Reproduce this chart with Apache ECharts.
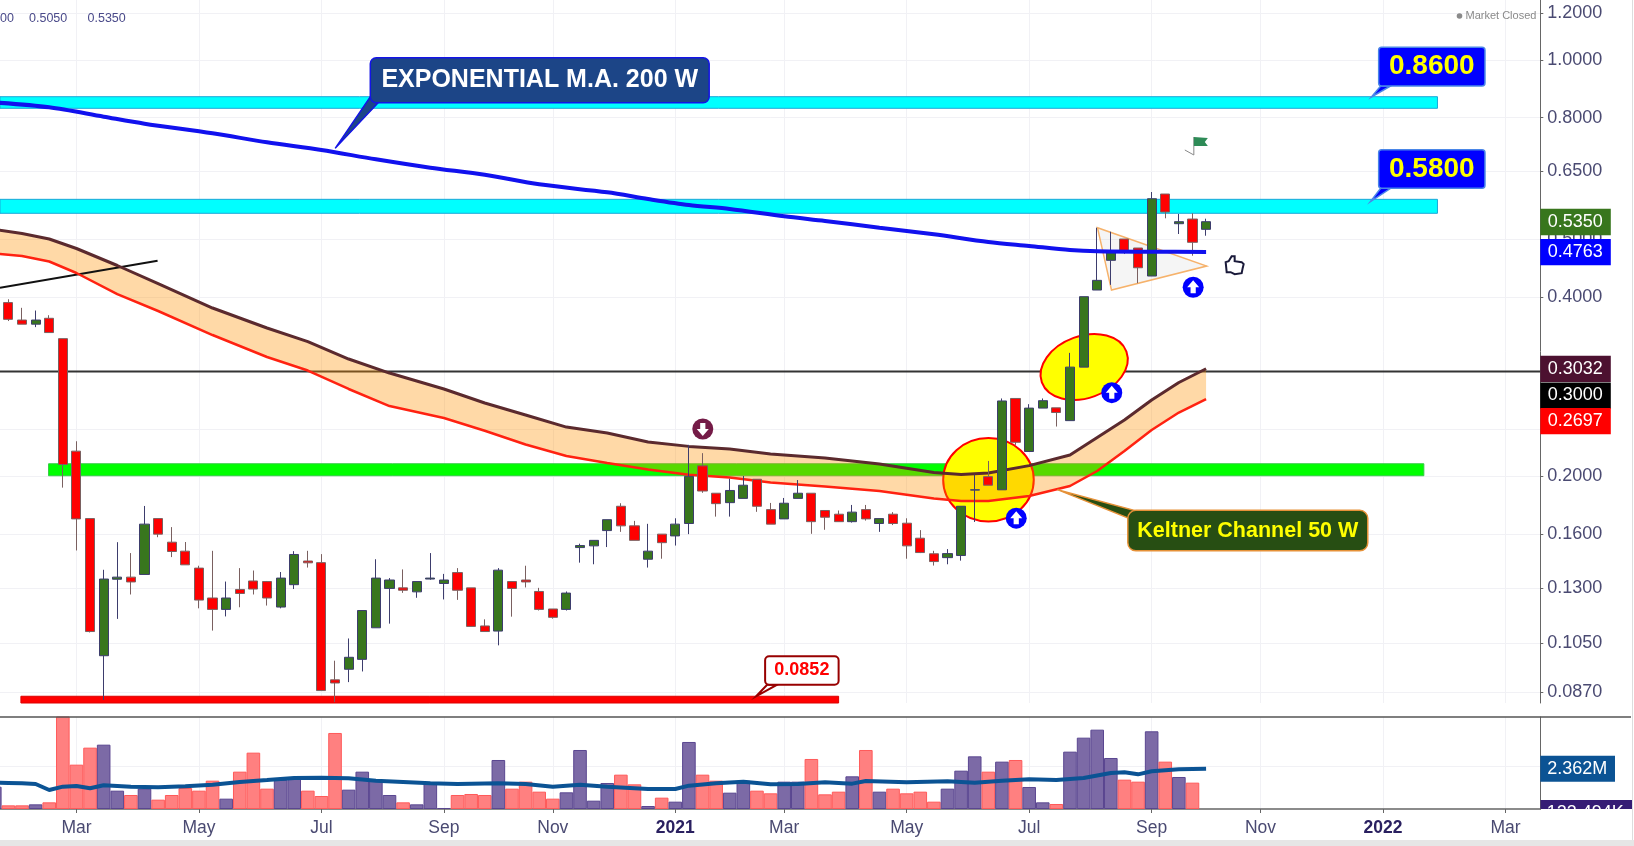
<!DOCTYPE html>
<html><head><meta charset="utf-8">
<style>html,body{margin:0;padding:0;background:#fff}#c{width:1634px;height:846px}</style>
<script src="https://cdn.jsdelivr.net/npm/echarts@6/dist/echarts.min.js"></script>
</head><body><div id="c"></div>
<script>
// Weekly bars: bar 0 = week of 2020-01-27, bar 5 = 2020-03-02, bar 49 = 2021-01-04 ... bar 88 = 2021-10-04
const candleOpen=[.3915,.3660,.3602,.3685,.3406,.2205,.1699,.1000,.1344,.1355,.1369,.1699,.1551,.1498,.1403,.1250,.1196,.1292,.1335,.1332,.1207,.1316,.1442,.1433,
.0911,.0949,.0986,.1114,.1297,.1300,.1280,.1345,.1322,.1379,.1300,.1122,.1100,.1332,.1340,.1282,.1198,.1196,.1519,.1529,.1622,.1782,.1652,.1452,
.1600,.1589,.1667,.2083,.1874,.1807,.1837,.1978,.1759,.1697,.1837,.1874,.1753,.1728,.1679,.1759,.1667,.1728,.1669,.1575,.1483,.1461,.1473,.1897,
.1998,.1899,.2703,.2202,.2604,.2607,.2481,.3051,.4110,.4610,.5006,.4835,.4339,.5957,.5311,.5408,.5197];
const candleClose=[.3670,.3602,.3660,.3487,.2094,.1697,.1098,.1345,.1355,.1330,.1663,.1600,.1496,.1421,.1240,.1196,.1250,.1272,.1294,.1250,.1350,.1479,.1432,.0874,
.0900,.0994,.1191,.1350,.1340,.1288,.1332,.1350,.1340,.1288,.1120,.1098,.1392,.1297,.1330,.1196,.1160,.1274,.1531,.1562,.1692,.1652,.1562,.1498,
.1548,.1663,.2000,.1890,.1800,.1894,.1933,.1782,.1663,.1803,.1874,.1679,.1708,.1679,.1742,.1697,.1699,.1667,.1529,.1490,.1439,.1484,.1782,.1899,
.1933,.2677,.2282,.2604,.2680,.2560,.3051,.4006,.4267,.4748,.4785,.4480,.5850,.5557,.5353,.4943,.5353];
const candleLow=[.3646,.3602,.3561,.3487,.1915,.1502,.1094,.0843,.1153,.1267,.1369,.1581,.1464,.1421,.1201,.1102,.1164,.1206,.1267,.1214,.1201,.1294,.1406,.0874,
.0836,.0903,.0941,.1114,.1132,.1275,.1251,.1341,.1243,.1241,.1120,.1098,.1041,.1163,.1302,.1191,.1154,.1191,.1433,.1424,.1522,.1614,.1562,.1406,
.1455,.1531,.1600,.1877,.1712,.1712,.1837,.1744,.1663,.1697,.1837,.1602,.1627,.1679,.1673,.1686,.1614,.1657,.1455,.1487,.1417,.1424,.1444,.1677,
.1933,.1899,.2259,.2202,.2604,.2425,.2481,.3051,.4110,.4193,.4724,.4220,.4339,.5423,.5104,.4693,.5070];
const candleHigh=[.3966,.3837,.3797,.3729,.3406,.2291,.1699,.1394,.1551,.1487,.1784,.1699,.1644,.1552,.1416,.1500,.1332,.1403,.1390,.1335,.1382,.1498,.1500,.1481,
.0981,.1069,.1191,.1452,.1350,.1396,.1332,.1487,.1372,.1403,.1300,.1151,.1403,.1332,.1416,.1300,.1198,.1282,.1542,.1562,.1692,.1803,.1684,.1665,
.1600,.1701,.2259,.2188,.1874,.1982,.2003,.1978,.1805,.1840,.1972,.1874,.1753,.1753,.1791,.1791,.1699,.1742,.1701,.1625,.1500,.1510,.1782,.2014,
.2123,.2703,.2703,.2644,.2703,.2607,.3224,.4006,.5230,.5149,.5006,.4835,.6003,.5957,.5514,.5529,.5415];
// Volume in millions, from bar -1 to bar 87
const volumeM=[1.31,.215,.215,.274,.392,5.6,2.605,3.605,3.78,1.077,.823,1.195,.549,.823,1.234,1.077,1.665,.607,2.194,3.311,1.195,1.704,1.763,1.077,.764,4.467,1.136,2.194,1.704,.823,.392,.274,1.567,.059,.823,.882,.823,2.880,1.195,1.606,1.019,.607,.980,3.467,.490,
1.528,2.018,1.450,.176,.666,.431,3.938,2.018,1.665,.960,1.665,1.077,.921,1.606,1.606,2.939,.862,1.019,1.920,3.467,1.019,1.195,.921,1.019,.431,1.195,2.253,3.095,2.194,2.782,2.880,1.293,.392,.294,3.370,4.192,4.662,2.997,1.724,1.606,4.565,2.782,1.881,1.548];
const volMaBars=[-1,0,1,2,3,4,5,6,7,9,11,13,15,17,19,21,23,25,27,29,31,33,36,38,40,42,44,47,49,50,52,54,56,58,60,62,63,66,69,71,73,75,77,79,81,82,83,84,86,88];
const volMaValues=[1.548,1.528,1.508,1.469,1.117,1.313,1.352,1.215,1.391,1.313,1.273,1.332,1.430,1.587,1.704,1.822,1.841,1.802,1.665,1.587,1.508,1.469,1.508,1.469,1.313,1.430,1.313,1.175,1.175,1.371,1.508,1.606,1.450,1.469,1.567,1.489,1.646,1.567,1.626,1.548,1.665,1.744,1.704,1.822,2.116,2.155,2.037,2.214,2.331,2.362];
const emaBars=[-1,3,7,10,15,19,23,27,31,35,39,44,47,50,53,57,60,64,68,72,75,78,80,84,88];
const emaValues=[.8485,.8329,.8032,.7818,.7533,.7275,.7062,.6813,.6595,.6418,.6185,.5996,.5843,.5709,.5621,.5465,.5367,.5230,.5098,.4948,.4873,.4798,.4774,.4766,.4763];
const keltnerBars=[-1,1,3,5,8,11,15,19,22,25,28,32,35,38,41,44,47,50,53,56,60,64,68,70,72,75,78,80,82,84,86,88];
const keltnerUpper=[.5193,.5114,.5006,.4826,.4519,.4215,.3834,.3549,.3368,.3148,.2982,.2804,.2656,.2536,.2420,.2365,.2284,.2246,.2223,.2181,.2147,.2098,.2030,.2014,.2026,.2085,.2172,.2324,.2487,.2687,.2875,.3032];
const keltnerLower=[.4733,.4688,.4589,.4390,.4047,.3790,.3454,.3173,.3011,.2804,.2625,.2506,.2386,.2262,.2164,.2106,.2054,.2013,.1991,.1953,.1923,.1890,.1836,.1818,.1818,.1854,.1927,.2042,.2206,.2393,.2560,.2697];
const monthBars=[5,14,23,32,40,49,57,66,75,84,92,101,110];
const monthLabels=['Mar','May','Jul','Sep','Nov','2021','Mar','May','Jul','Sep','Nov','2022','Mar'];
const priceTicks=[1.2,1,.8,.65,.5,.4,.3,.24,.2,.16,.13,.105,.087];

const FONT='"Liberation Sans",Arial,sans-serif';
const X_MIN=-0.617, X_MAX=112.556, Y_MIN=.0833, Y_MAX=1.261;

const bands=[
 {a:[-0.62,.8677],b:[105.0,.8297],fill:'#00ffff',stroke:'#1aa7d8'},
 {a:[-0.62,.5836],b:[105.0,.5529],fill:'#00ffff',stroke:'#1aa7d8'},
 {a:[2.95,.2100],b:[104.0,.2005],fill:'#00ff00',stroke:'#33cc44'},
 {a:[.92,.0855],b:[61.0,.0833],fill:'#ff0000',stroke:'#dd0000'}
];
const ellipses=[
 {c:[72.01,.1974],rx:45.3,ry:41.7,rot:0},
 {c:[79.04,.3052],rx:45,ry:31,rot:20}
];
const triangle=[[80.02,.5230],[81.05,.4110],[88.04,.4510]];
const callouts=[
 {text:'EXPONENTIAL M.A. 200 W',a:[26.59,1.0089],b:[51.49,.8478],tip:[24.01,.7108],base:[[0,-6],[8,0]],fill:'#1c4587',stroke:'#1414e6',color:'#fff',size:25,r:6,lw:1.5},
 {text:'0.8600',a:[100.68,1.0503],b:[108.49,.9044],tip:[100.15,.8667],base:[[2,0],[12,0]],fill:'#0000ff',stroke:'#4a86e8',color:'#ffff00',size:28,r:3,lw:1.5},
 {text:'0.5800',a:[100.68,.7070],b:[108.49,.6090],tip:[100.07,.5782],base:[[2,0],[12,0]],fill:'#0000ff',stroke:'#4a86e8',color:'#ffff00',size:28,r:3,lw:1.5},
 {text:'0.0852',a:[55.6,.0998],b:[61.0,.0894],tip:[54.94,.0855],base:[[2,0],[12,0]],fill:'#ffffff',stroke:'#980000',color:'#ff0000',size:18,r:4,lw:2},
 {text:'Keltner Channel 50 W',a:[82.25,.1754],b:[99.88,.1500],tip:[77.08,.1900],base:[[0,-33],[8,-40]],fill:'#274e13',stroke:'#e69138',color:'#ffff00',size:21.5,r:8,lw:1.5}
];
const markers=[
 {c:[74.05,.1702],up:true,fill:'#0000ff'},
 {c:[81.07,.2764],up:true,fill:'#0000ff'},
 {c:[87.05,.4154],up:true,fill:'#0000ff'},
 {c:[51.02,.2402],up:false,fill:'#741b47'}
];
const flagAnchor=[87.1,.6927], thumbAnchor=[90.1,.4525];
const priceTags=[
 {v:.5350,text:'0.5350',fill:'#38761d',dy:0},
 {v:.4763,text:'0.4763',fill:'#0000ff',dy:0},
 {v:.3032,text:'0.3032',fill:'#4c1130',dy:0},
 {v:.3000,text:'0.3000',fill:'#000000',dy:24},
 {v:.2697,text:'0.2697',fill:'#ff0000',dy:22}
];

function overlay(name,z,items,draw,axis){
  return {type:'custom',name,z,silent:true,xAxisIndex:axis||0,yAxisIndex:axis||0,
    data:items.map(function(_,k){return [k===0?0:1,axis?1:.5];}),
    renderItem:function(p,api){return draw(items[p.dataIndex],api);}};
}
function label(text,x,y,size,color,weight,align){
  return {type:'text',style:{text:text,x:x,y:y,fill:color,font:(weight||'normal')+' '+size+'px '+FONT,
    align:align||'center',verticalAlign:'middle',textAlign:align||'center',textVerticalAlign:'middle'}};
}
const bandSeries=overlay('bands',2,bands,function(b,api){
  const p=api.coord(b.a),q=api.coord(b.b);
  return {type:'rect',shape:{x:p[0],y:p[1],width:q[0]-p[0],height:q[1]-p[1]},style:{fill:b.fill,stroke:b.stroke,lineWidth:1}};
});
const ellipseSeries=overlay('ellipses',3,ellipses,function(e,api){
  const c=api.coord(e.c);
  return {type:'ellipse',x:c[0],y:c[1],rotation:e.rot*Math.PI/180,shape:{cx:0,cy:0,rx:e.rx,ry:e.ry},style:{fill:'#ffff00',stroke:'#ff0000',lineWidth:2}};
});
const channelSeries=overlay('channelFill',4,[0],function(_,api){
  const pts=[];
  keltnerBars.forEach(function(b,k){pts.push(api.coord([b,keltnerUpper[k]]));});
  for(let k=keltnerBars.length-1;k>=0;k--)pts.push(api.coord([keltnerBars[k],keltnerLower[k]]));
  return {type:'polygon',shape:{points:pts},style:{fill:'rgba(255,145,0,0.345)'}};
});
const triangleSeries=overlay('triangle',4,[0],function(_,api){
  return {type:'polygon',shape:{points:triangle.map(function(t){return api.coord(t);})},style:{fill:'rgba(190,190,190,0.15)',stroke:'#f6b26b',lineWidth:1.5}};
});
const calloutSeries=overlay('callouts',9,callouts,function(c,api){
  const p=api.coord(c.a),q=api.coord(c.b),t=api.coord(c.tip);
  const poly=[t,[p[0]+c.base[0][0],q[1]+c.base[0][1]],[p[0]+c.base[1][0],q[1]+c.base[1][1]]];
  return {type:'group',children:[
    {type:'polygon',shape:{points:poly},style:{fill:c.fill,stroke:c.stroke,lineWidth:c.lw}},
    {type:'rect',shape:{x:p[0],y:p[1],width:q[0]-p[0],height:q[1]-p[1],r:c.r},style:{fill:c.fill,stroke:c.stroke,lineWidth:c.lw}},
    label(c.text,(p[0]+q[0])/2,(p[1]+q[1])/2,c.size,c.color,'bold')
  ]};
});
const markerSeries=overlay('markers',9,markers,function(m,api){
  const c=api.coord(m.c),s=m.up?1:-1;
  const arrow=[[0,-7],[6,0],[2.6,0],[2.6,6],[-2.6,6],[-2.6,0],[-6,0]].map(function(a){return [c[0]+a[0],c[1]+a[1]*s];});
  return {type:'group',children:[
    {type:'circle',shape:{cx:c[0],cy:c[1],r:10.5},style:{fill:m.fill}},
    {type:'polygon',shape:{points:arrow},style:{fill:'#fff'}}
  ]};
});
const flagSeries=overlay('flag',9,[0],function(_,api){
  const c=api.coord(flagAnchor);
  return {type:'group',children:[
    {type:'polyline',shape:{points:[[c[0]-9,c[1]-5],[c[0],c[1]],[c[0],c[1]-18]]},style:{stroke:'#888',lineWidth:1,fill:null}},
    {type:'polygon',shape:{points:[[c[0],c[1]-18],[c[0]+14,c[1]-17],[c[0]+11,c[1]-13],[c[0]+14,c[1]-9],[c[0],c[1]-9]]},style:{fill:'#2e8b57'}}
  ]};
});
const thumbSeries=overlay('thumb',9,[0],function(_,api){
  const c=api.coord(thumbAnchor);
  const shape=[[-9,-3],[-6,-4],[-3,-9],[0,-9],[0,-4],[7,-3],[9,-1],[8,3],[7,8],[0,9],[-4,7],[-8,7]];
  return {type:'polygon',shape:{points:shape.map(function(a){return [c[0]+a[0],c[1]+a[1]];})},style:{fill:'#fff',stroke:'#1a1a3a',lineWidth:2}};
});
const tagSeries=overlay('priceTags',10,priceTags,function(t,api){
  const c=api.coord([X_MAX,t.v]);
  return {type:'group',children:[
    {type:'rect',shape:{x:c[0],y:c[1]+t.dy-13,width:70.5,height:26.3},style:{fill:t.fill}},
    label(t.text,c[0]+35,c[1]+t.dy,18,'#fff')
  ]};
});
const volTagSeries=overlay('volumeTags',10,[0],function(_,api){
  const c=api.coord([X_MAX,2.362]);
  const d=api.coord([X_MAX,.1235]);
  return {type:'group',children:[
    {type:'rect',shape:{x:c[0],y:c[1]-13,width:74.7,height:26},style:{fill:'#0b5394'}},
    label('2.362M',c[0]+37,c[1],18,'#fff'),
    {type:'group',clipPath:{type:'rect',shape:{x:c[0],y:d[1]-7,width:92,height:9}},children:[
      {type:'rect',shape:{x:c[0],y:d[1]-7,width:92,height:26},style:{fill:'#351c75'}},
      label('123.494K',c[0]+45,d[1]+6,18,'#fff')
    ]}
  ]};
},1);

function isUp(bar){return bar<0||candleClose[bar]>=candleOpen[bar];}
const candleData=candleOpen.map(function(o,i){return [i,o,candleClose[i],candleLow[i],candleHigh[i]];});
const volumeData=volumeM.map(function(v,k){
  const up=isUp(k-1);
  return {value:[k-1,v],itemStyle:{color:up?'#7c6aa6':'#ff8080',borderColor:up?'#5a4690':'#ff5a5a',borderWidth:1}};
});
function zip(xs,ys){return xs.map(function(x,k){return [x,ys[k]];});}

const gridLine={show:true,lineStyle:{color:'#f1f1f5',width:1}};
const tickLabelColor='#4a4a72';
const option={
  animation:false,backgroundColor:'#fff',
  grid:[
    {left:0,top:0,width:1540.3,height:703,containLabel:false},
    {left:0,top:717,width:1540.3,height:92,containLabel:false}
  ],
  xAxis:[
    {type:'value',gridIndex:0,min:X_MIN,max:X_MAX,axisLine:{show:false},axisTick:{show:false,customValues:monthBars},axisLabel:{show:false,customValues:monthBars},splitLine:gridLine},
    {type:'value',gridIndex:1,min:X_MIN,max:X_MAX,position:'bottom',
     axisLine:{show:true,onZero:false,lineStyle:{color:'#666',width:1.5}},
     axisTick:{show:true,length:4,customValues:monthBars,lineStyle:{color:'#666'}},
     splitLine:gridLine,
     axisLabel:{show:true,margin:10,customValues:monthBars,fontFamily:FONT,fontSize:17.5,color:tickLabelColor,hideOverlap:false,
       formatter:function(v){const t=monthLabels[monthBars.indexOf(v)];return /^\d{4}$/.test(t)?'{y|'+t+'}':t;},
       rich:{y:{fontFamily:FONT,fontSize:17.5,fontWeight:'bold',color:'#2a2060'}}}}
  ],
  yAxis:[
    {type:'log',gridIndex:0,position:'right',min:Y_MIN,max:Y_MAX,
     axisLine:{show:true,onZero:false,lineStyle:{color:'#666',width:1}},
     axisTick:{show:true,length:3,customValues:priceTicks,lineStyle:{color:'#666'}},
     splitLine:gridLine,
     axisLabel:{show:true,margin:7,padding:[4,0,0,0],customValues:priceTicks,fontFamily:FONT,fontSize:18,color:tickLabelColor,hideOverlap:false,showMinLabel:true,showMaxLabel:true,
       formatter:function(v){return Number(v).toFixed(4);}}},
    {type:'value',gridIndex:1,position:'right',min:0,max:5.406,
     axisLine:{show:true,onZero:false,lineStyle:{color:'#666',width:1}},
     axisTick:{show:false,customValues:[2.5]},axisLabel:{show:false,customValues:[2.5]},splitLine:gridLine}
  ],
  graphic:[
    {type:'line',shape:{x1:0,y1:717,x2:1631,y2:717},style:{stroke:'#555',lineWidth:1.5},z:20},
    {type:'rect',shape:{x:0,y:840,width:1634,height:6},style:{fill:'#e6e6e6'},z:20},
    {type:'line',shape:{x1:1632.5,y1:0,x2:1632.5,y2:840},style:{stroke:'#dddddd',lineWidth:1},z:20},
    {type:'text',style:{text:'00',x:0,y:18.5,fill:'#4a4a8a',font:'12.5px '+FONT,textVerticalAlign:'middle',verticalAlign:'middle'},z:20},
    {type:'text',style:{text:'0.5050',x:29,y:18.5,fill:'#4a4a8a',font:'12.5px '+FONT,textVerticalAlign:'middle',verticalAlign:'middle'},z:20},
    {type:'text',style:{text:'0.5350',x:87.5,y:18.5,fill:'#4a4a8a',font:'12.5px '+FONT,textVerticalAlign:'middle',verticalAlign:'middle'},z:20},
    {type:'circle',shape:{cx:1459.5,cy:16,r:2.8},style:{fill:'#8a8a8a'},z:20},
    {type:'text',style:{text:'Market Closed',x:1465.5,y:16,fill:'#8a8a8a',font:'11px '+FONT,textVerticalAlign:'middle',verticalAlign:'middle'},z:20}
  ],
  series:[
    bandSeries,
    {type:'line',name:'Level 0.30',z:2,data:[[X_MIN,.3],[X_MAX,.3]],showSymbol:false,silent:true,lineStyle:{color:'#333',width:2}},
    ellipseSeries,channelSeries,triangleSeries,
    {type:'line',name:'Trend',z:4,data:[[-0.62,.4147],[10.96,.4603]],showSymbol:false,silent:true,lineStyle:{color:'#111',width:2}},
    {type:'line',name:'Keltner upper',z:5,data:zip(keltnerBars,keltnerUpper),showSymbol:false,silent:true,lineStyle:{color:'#5b2a2e',width:3}},
    {type:'line',name:'Keltner lower',z:5,data:zip(keltnerBars,keltnerLower),showSymbol:false,silent:true,lineStyle:{color:'#ff2211',width:2.5}},
    {type:'candlestick',name:'Price',z:6,barWidth:9.6,data:candleData,silent:true,
     itemStyle:{color:'#38761d',color0:'#ff0000',borderColor:'#3d3d6d',borderColor0:'#7a6060',borderWidth:1}},
    {type:'line',name:'EMA 200',z:7,data:zip(emaBars,emaValues),smooth:0.3,showSymbol:false,silent:true,lineStyle:{color:'#1111ee',width:4}},
    calloutSeries,markerSeries,flagSeries,thumbSeries,tagSeries,
    {type:'bar',name:'Volume',xAxisIndex:1,yAxisIndex:1,z:3,barWidth:13.6,data:volumeData,silent:true},
    {type:'line',name:'Volume MA',xAxisIndex:1,yAxisIndex:1,z:5,data:zip(volMaBars,volMaValues),showSymbol:false,silent:true,lineStyle:{color:'#0b5394',width:4}},
    volTagSeries
  ]
};
const chart=echarts.init(document.getElementById('c'),null,{renderer:'canvas'});
chart.setOption(option);
</script></body></html>
